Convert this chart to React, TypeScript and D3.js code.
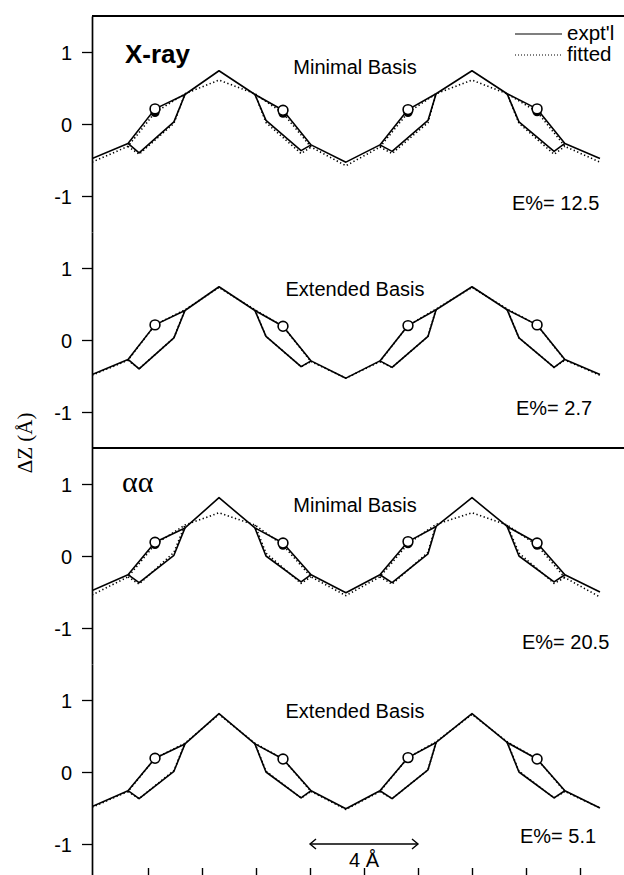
import React, { useEffect, useRef } from "react";
import * as d3 from "d3";

const W = 624;
const H = 875;

// Atom positions along the chain (Å). Order: trough, A, E, O, D, C, peak, C', D', O', E', A', trough, ...
const atomX = [-0.07, 1.26, 1.67, 2.26, 2.96, 3.37, 4.63, 5.96, 6.37, 7.0, 7.67, 8.04, 9.33, 10.59, 11.04, 11.63, 12.37, 12.67, 14.0, 15.3, 15.74, 16.41, 17.04, 17.44, 18.74];

const chainIdx = [0, 1, 3, 5, 6, 7, 9, 11, 12, 13, 15, 17, 18, 19, 21, 23, 24];
const loopIdx = [
  [1, 2, 4, 5],
  [7, 8, 10, 11],
  [13, 14, 16, 17],
  [19, 20, 22, 23],
];
const oxygenIdx = [3, 9, 15, 21];

// ΔZ values (Å)
const xrayExpt = [-0.48, -0.27, -0.4, 0.21, 0.03, 0.41, 0.74, 0.41, 0.05, 0.19, -0.37, -0.29, -0.53, -0.29, -0.38, 0.2, 0.05, 0.42, 0.74, 0.42, 0.03, 0.21, -0.38, -0.27, -0.48];
const xrayFitMin = [-0.53, -0.31, -0.42, 0.16, 0.01, 0.42, 0.61, 0.42, 0.02, 0.15, -0.41, -0.32, -0.58, -0.32, -0.41, 0.16, 0.02, 0.42, 0.61, 0.42, 0.01, 0.17, -0.42, -0.31, -0.53];
const xrayFitExt = [-0.49, -0.28, -0.4, 0.21, 0.03, 0.42, 0.73, 0.42, 0.05, 0.19, -0.37, -0.3, -0.53, -0.3, -0.38, 0.2, 0.05, 0.43, 0.73, 0.43, 0.03, 0.21, -0.38, -0.28, -0.49];
const aaExpt = [-0.48, -0.26, -0.37, 0.19, 0.01, 0.39, 0.81, 0.39, 0.0, 0.18, -0.36, -0.26, -0.51, -0.26, -0.37, 0.2, 0.03, 0.41, 0.81, 0.41, 0.0, 0.18, -0.36, -0.26, -0.5];
const aaFitMin = [-0.54, -0.29, -0.39, 0.16, 0.05, 0.43, 0.6, 0.43, 0.04, 0.15, -0.38, -0.29, -0.55, -0.29, -0.39, 0.17, 0.05, 0.44, 0.6, 0.43, 0.04, 0.15, -0.38, -0.3, -0.57];
const aaFitExt = [-0.49, -0.27, -0.37, 0.19, 0.02, 0.4, 0.8, 0.4, 0.01, 0.18, -0.36, -0.27, -0.52, -0.27, -0.37, 0.2, 0.03, 0.42, 0.8, 0.42, 0.01, 0.18, -0.36, -0.27, -0.5];

const panelTitles = ["X-ray", "αα"];
const basisLabels = ["Minimal Basis", "Extended Basis", "Minimal Basis", "Extended Basis"];
const errorValues = ["12.5", "2.7", "20.5", "5.1"];
const yTicks = [-1, 0, 1];
const xTicks = [2, 4, 6, 8, 10, 12, 14, 16, 18];
const legendLabels = ["expt'l", "fitted"];
const scaleBar = [8, 12];

const sans = "'Liberation Sans', Arial, Helvetica, sans-serif";
const serif = "'Liberation Serif', 'Times New Roman', serif";

export default function App() {
  const ref = useRef<SVGSVGElement | null>(null);

  useEffect(() => {
    const svg = d3.select(ref.current);
    svg.selectAll("*").remove();

    const left = 92;
    const subH = 216;
    const top0 = 16;
    const x = d3.scaleLinear().domain([0, 20]).range([94, 94 + 540]);

    const subplots = [
      { expt: xrayExpt, fit: xrayFitMin, labelY: 0.69, eX: 512, eY: -1.2 },
      { expt: xrayExpt, fit: xrayFitExt, labelY: 0.61, eX: 516, eY: -1.04 },
      { expt: aaExpt, fit: aaFitMin, labelY: 0.61, eX: 522, eY: -1.29 },
      { expt: aaExpt, fit: aaFitExt, labelY: 0.75, eX: 520, eY: -0.98 },
    ];

    const defs = svg.append("defs");
    defs
      .append("clipPath")
      .attr("id", "plotclip")
      .append("rect")
      .attr("x", left)
      .attr("y", 0)
      .attr("width", W - left)
      .attr("height", H);

    subplots.forEach((sp, i) => {
      const top = top0 + i * subH;
      const y = d3.scaleLinear().domain([1.5, -1.5]).range([top, top + subH]);
      const g = svg.append("g");

      // y axis
      const ax = g
        .append("g")
        .attr("transform", `translate(${left},0)`)
        .call(
          d3
            .axisLeft(y)
            .tickValues(yTicks)
            .tickSize(10)
            .tickSizeOuter(0)
            .tickPadding(10)
            .tickFormat((d: any) => String(d))
        );
      ax.select(".domain").attr("stroke", "#000").attr("stroke-width", 1.7);
      ax.selectAll(".tick line").attr("stroke", "#000").attr("stroke-width", 1.3);
      ax.selectAll(".tick text")
        .attr("font-family", sans)
        .attr("font-size", 20)
        .attr("fill", "#000")
        .attr("dy", "0.36em");

      const pt = (arr: number[]) => (k: number) => [x(atomX[k]), y(arr[k])] as [number, number];
      const line = d3.line<[number, number]>();
      const plot = g.append("g").attr("clip-path", "url(#plotclip)");

      const drawSeries = (arr: number[], dotted: boolean) => {
        const p = pt(arr);
        const s = plot.append("g")
          .attr("fill", "none")
          .attr("stroke", "#000")
          .attr("stroke-width", 1.6)
          .attr("stroke-linejoin", "round")
          .attr("stroke-dasharray", dotted ? "1.3,2.5" : null);
        s.append("path").attr("d", line(chainIdx.map(p)));
        loopIdx.forEach((lp) => {
          s.append("path").attr("d", line(lp.map(p)));
        });
      };

      drawSeries(sp.fit, true);
      drawSeries(sp.expt, false);

      // fitted oxygens (filled), then experimental (open)
      oxygenIdx.forEach((k) => {
        plot.append("circle")
          .attr("cx", x(atomX[k]))
          .attr("cy", y(sp.fit[k]))
          .attr("r", 4.6)
          .attr("fill", "#000");
      });
      oxygenIdx.forEach((k) => {
        plot.append("circle")
          .attr("cx", x(atomX[k]))
          .attr("cy", y(sp.expt[k]))
          .attr("r", 4.9)
          .attr("fill", "#fff")
          .attr("stroke", "#000")
          .attr("stroke-width", 1.6);
      });

      // basis label
      g.append("text")
        .attr("x", 355)
        .attr("y", y(sp.labelY))
        .attr("text-anchor", "middle")
        .attr("font-family", sans)
        .attr("font-size", 20)
        .text(basisLabels[i]);

      // error label
      g.append("text")
        .attr("x", sp.eX)
        .attr("y", y(sp.eY))
        .attr("font-family", sans)
        .attr("font-size", 20)
        .text(`E%= ${errorValues[i]}`);

      if (i === 3) {
        // scale bar
        const yb = y(-1);
        const x1 = x(scaleBar[0]);
        const x2 = x(scaleBar[1]);
        const sb = g.append("g").attr("stroke", "#000").attr("stroke-width", 1.4).attr("fill", "none");
        sb.append("line").attr("x1", x1).attr("x2", x2).attr("y1", yb).attr("y2", yb);
        sb.append("path").attr("d", `M${x1 + 6},${yb - 5} L${x1},${yb} L${x1 + 6},${yb + 5}`);
        sb.append("path").attr("d", `M${x2 - 6},${yb - 5} L${x2},${yb} L${x2 - 6},${yb + 5}`);
        g.append("text")
          .attr("x", (x1 + x2) / 2)
          .attr("y", yb + 23)
          .attr("text-anchor", "middle")
          .attr("font-family", sans)
          .attr("font-size", 20)
          .text(`${scaleBar[1] - scaleBar[0]} Å`);
      }
    });

    // frame lines: top and divider
    [top0, top0 + 2 * subH].forEach((yy) => {
      svg.append("line")
        .attr("x1", left).attr("x2", W)
        .attr("y1", yy).attr("y2", yy)
        .attr("stroke", "#000").attr("stroke-width", 1.9);
    });

    // bottom x ticks (inward)
    const bx = svg.append("g")
      .attr("transform", `translate(0,${top0 + 4 * subH})`)
      .call(d3.axisTop(x).tickValues(xTicks).tickSize(12).tickSizeOuter(0).tickFormat(() => ""));
    bx.select(".domain").attr("stroke", "#000").attr("stroke-width", 1.5);
    bx.selectAll(".tick line").attr("stroke", "#000").attr("stroke-width", 1.4);

    // panel titles
    svg.append("text")
      .attr("x", 125).attr("y", 63)
      .attr("font-family", sans).attr("font-weight", "bold").attr("font-size", 26)
      .text(panelTitles[0]);
    svg.append("text")
      .attr("x", 122).attr("y", 492)
      .attr("font-family", serif).attr("font-size", 30)
      .text(panelTitles[1]);

    // legend
    const lg = svg.append("g");
    [0, 1].forEach((k) => {
      const yy = 34 + k * 21;
      lg.append("line")
        .attr("x1", 515).attr("x2", 562).attr("y1", yy).attr("y2", yy)
        .attr("stroke", "#000").attr("stroke-width", 1.2)
        .attr("stroke-dasharray", k === 1 ? "1,2" : null);
      lg.append("text")
        .attr("x", 567).attr("y", yy + 6)
        .attr("font-family", sans).attr("font-size", 20.5)
        .text(legendLabels[k]);
    });

    // y label
    svg.append("text")
      .attr("transform", "translate(32,443) rotate(-90)")
      .attr("text-anchor", "middle")
      .attr("font-family", serif)
      .attr("font-size", 21)
      .text("ΔZ (Å)");
  }, []);

  return (
    <svg
      ref={ref}
      width={W}
      height={H}
      style={{ position: "absolute", left: 0, top: 0, background: "#fff" }}
    />
  );
}
